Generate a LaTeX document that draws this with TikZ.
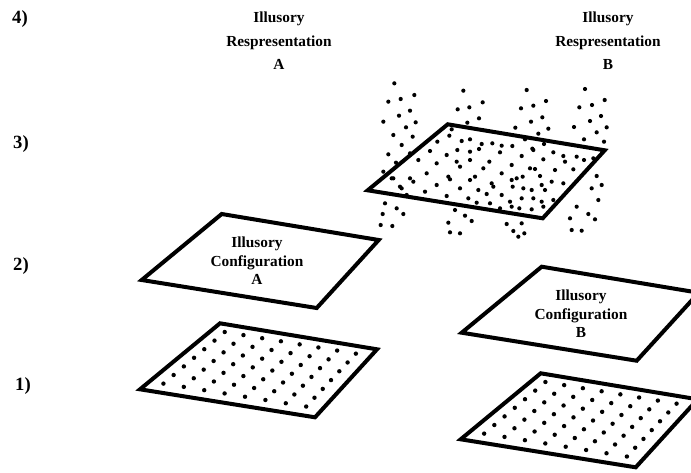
\documentclass[tikz,border=0pt]{standalone}
\usepackage{fontspec}
\setmainfont{Liberation Serif}
\begin{document}
\begin{tikzpicture}[x=0.75pt,y=-0.75pt,
  plane/.style={line width=3pt, line join=miter, fill=white},
  lbl/.style={font=\bfseries\fontsize{11.5}{14}\selectfont, align=center, inner sep=0pt},
  replbl/.style={font=\bfseries\fontsize{11.5}{17.5}\selectfont, align=center, inner sep=0pt},
  num/.style={font=\bfseries\fontsize{14}{16}\selectfont, inner sep=0pt}]
\useasboundingbox (0,0) rectangle (691,472);
\clip (0,0) rectangle (691,472);

% plane outline from top-left corner
\newcommand\planeat[1]{\draw[plane] (#1) -- ++(157,26) -- ++(-62,68) -- ++(-175,-28) -- cycle;}
% regular dot grid inside a plane with top-left corner (#1,#2)
\newcommand\griddots[2]{%
  \foreach \i in {0,...,7}{\foreach \j in {0,...,6}{%
    \pgfmathsetmacro\u{0.08+\i*0.118}\pgfmathsetmacro\v{0.1+\j*0.13}%
    \fill ({#1+157*\u-80*\v+18*\u*\v},{#2+26*\u+66*\v+2*\u*\v}) circle[radius=2.2];}}}

% level labels
\node[num] (n4) at (20,19) {4)};
\node[num] (n3) at (21,144) {3)};
\node[num] (n2) at (21,266) {2)};
\node[num] (n1) at (23,386) {1)};

% level 1
\coordinate (p1a) at (220,323.3);
\coordinate (p1b) at (540.7,373.3);
\planeat{p1a}
\griddots{220}{323.3}
\planeat{p1b}
\griddots{540.7}{373.3}

% level 2
\coordinate (p2a) at (221.7,214);
\coordinate (p2b) at (541.7,266.7);
\planeat{p2a}
\planeat{p2b}
\node[lbl] (ca) at (257,261) {Illusory\\Configuration\\A};
\node[lbl] (cb) at (581,314) {Illusory\\Configuration\\B};

% level 3
\coordinate (p3) at (447.7,124.3);
\planeat{p3}
\foreach \a/\b in {
 % outside, upper left
 103/40,85/95,122/87,163/75,150/122,117/137,70/155,138/172,167/157,100/195,158/200,125/225,85/253,150/250,108/278,
 % outside, upper middle
 310/62,293/118,328/112,368/97,357/145,322/158,
 % outside, upper right-middle
 500/60,483/115,520/107,558/93,513/155,547/142,466/173,565/176,535/191,
 % outside, upper right
 675/57,658/112,696/105,734/90,690/153,723/138,642/171,710/187,740/172,672/208,732/215,
 % outside, lower right
 700/265,710/318,725/345,695/355,715/390,650/410,685/432,630/445,705/448,665/482,635/480,
 % outside, lower left
 70/305,100/325,75/400,110/415,130/432,68/432,62/465,97/468,
 % outside, lower middle
 285/420,315/437,265/458,335/453,270/487,300/490,
 % outside, lower right-middle
 440/462,485/460,460/483,493/490,475/500,
 % inside
 275/178,268/197,305/213,330/208,365/222,397/220,425/227,457/228,495/208,517/236,552/222,580/247,610/258,650/260,672/270,
 232/215,210/243,260/255,292/240,330/245,357/237,388/275,420/247,455/285,485/258,520/240,550/268,585/300,615/275,640/298,
 175/270,200/310,230/280,265/320,290/275,300/290,330/270,345/320,370/295,395/340,425/310,455/330,470/325,488/320,510/295,
 525/297,540/318,575/335,610/340,150/325,160/335,125/355,195/365,230/345,270/328,300/355,330/330,355/360,380/372,400/350,
 425/375,458/350,490/355,515/360,545/345,555/360,580/390,95/325,120/350,140/375,260/378,325/385,350/398,390/400,450/395,
 485/385,520/385,545/395,550/410,455/410,478/415,515/418,420/415}
 {\fill ({360+\a/3},{70+\b/3}) circle[radius=2.1];}

% level 4
\node[replbl] (ra) at (279,41) {Illusory\\Respresentation\\A};
\node[replbl] (rb) at (608,41) {Illusory\\Respresentation\\B};
\end{tikzpicture}
\end{document}
